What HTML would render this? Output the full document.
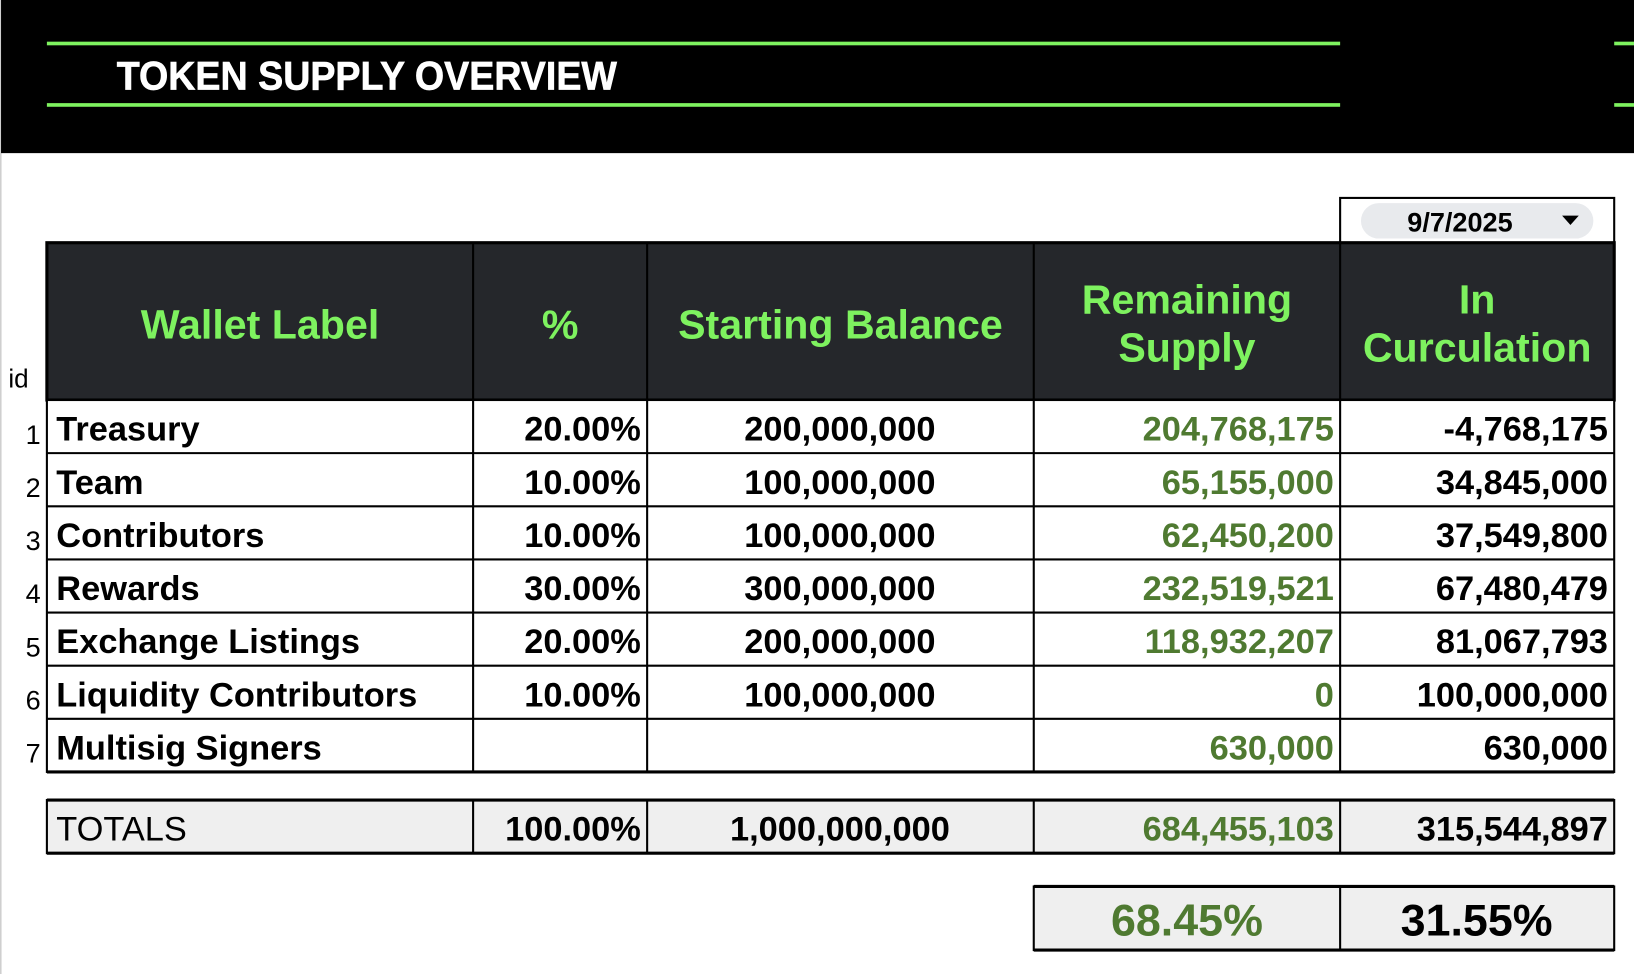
<!DOCTYPE html>
<html><head><meta charset="utf-8"><style>
html,body{margin:0;padding:0;background:#fff;overflow:hidden}
svg{display:block}
text{font-family:"Liberation Sans",sans-serif}
</style></head><body>
<svg id="s" width="1634" height="974" viewBox="0 0 1568 935" preserveAspectRatio="none" xmlns="http://www.w3.org/2000/svg">
<rect x="0" y="0" width="1568" height="935" fill="#fff"/>
<rect x="0" y="0" width="1.5" height="935" fill="#cfcfcf"/>
<rect x="1" y="0" width="1567" height="147" fill="#000"/>
<rect x="45" y="40" width="1241" height="3.5" fill="#7ef25f"/>
<rect x="45" y="99" width="1241" height="3.5" fill="#7ef25f"/>
<rect x="1549" y="40" width="19" height="3.5" fill="#7ef25f"/>
<rect x="1549" y="99" width="19" height="3.5" fill="#7ef25f"/>
<text x="112" y="86" font-size="38" font-weight="bold" fill="#fff" stroke="#fff" stroke-width="0.6" textLength="480" lengthAdjust="spacingAndGlyphs">TOKEN SUPPLY OVERVIEW</text>
<g>
<rect x="1286" y="190" width="263" height="44" fill="#fff" stroke="#000" stroke-width="2"/>
<rect x="1306" y="195" width="223" height="34" rx="17" fill="#e8eaed"/>
<text x="1401" y="222" text-anchor="middle" font-size="26" font-weight="bold" fill="#000">9/7/2025</text>
<polygon points="1499,207 1515,207 1507,216" fill="#000"/>
</g>
<g id="tbl"></g>
</svg>
<script>
const labels=["Treasury","Team","Contributors","Rewards","Exchange Listings","Liquidity Contributors","Multisig Signers"];
const pcts=["20.00%","10.00%","10.00%","30.00%","20.00%","10.00%",""];
const starting=["200,000,000","100,000,000","100,000,000","300,000,000","200,000,000","100,000,000",""];
const remaining=["204,768,175","65,155,000","62,450,200","232,519,521","118,932,207","0","630,000"];
const inCirc=["-4,768,175","34,845,000","37,549,800","67,480,479","81,067,793","100,000,000","630,000"];
const totals=["TOTALS","100.00%","1,000,000,000","684,455,103","315,544,897"];
const summary=["68.45%","31.55%"];

const NS="http://www.w3.org/2000/svg";
const g=document.getElementById('tbl');
const cols=[45,454,621,992,1286,1549];
const GREEN="#4f7a31", HG="#7ef25f";
const FS=33;
function el(t,a,txt){const e=document.createElementNS(NS,t);for(const k in a)e.setAttribute(k,a[k]);if(txt!==undefined)e.textContent=txt;g.appendChild(e);return e;}
const hdr=el('rect',{x:45,y:233,width:1504,height:151,fill:"#25272b",stroke:"#000","stroke-width":3});


for(let i=1;i<5;i++)el('line',{x1:cols[i],y1:233,x2:cols[i],y2:384,stroke:"#000","stroke-width":2});
const heads=[["Wallet Label"],["%"],["Starting Balance"],["Remaining","Supply"],["In","Curculation"]];
heads.forEach((h,i)=>{const cx=(cols[i]+cols[i+1])/2;
 h.forEach((line,j)=>{const y=h.length==1?325:(301+j*46);
  const t=el('text',{x:cx,y:y,"text-anchor":"middle","font-size":39.5,"font-weight":"bold",fill:HG},line);
  
  });});
el('text',{x:8,y:372,"font-size":25,fill:"#000"},"id");
const top0=384,rh=51;
el('rect',{x:45,y:top0,width:1504,height:rh*labels.length,fill:"#fff",stroke:"#000","stroke-width":2});
labels.forEach((lab,r)=>{
 const y=top0+r*rh, by=y+39;
 if(r>0)el('line',{x1:45,y1:y,x2:1549,y2:y,stroke:"#000","stroke-width":2});
 el('text',{x:39,y:by+3,"text-anchor":"end","font-size":26,fill:"#000"},String(r+1));
 const a=el('text',{x:54,y:by,"font-size":FS,"font-weight":"bold",fill:"#000"},lab);
 
 
 el('text',{x:615,y:by,"text-anchor":"end","font-size":FS,"font-weight":"bold",fill:"#000"},pcts[r]);
 el('text',{x:806,y:by,"text-anchor":"middle","font-size":FS,"font-weight":"bold",fill:"#000"},starting[r]);
 el('text',{x:1280,y:by,"text-anchor":"end","font-size":FS,"font-weight":"bold",fill:GREEN},remaining[r]);
 el('text',{x:1543,y:by,"text-anchor":"end","font-size":FS,"font-weight":"bold",fill:"#000"},inCirc[r]);
});
for(let i=1;i<5;i++)el('line',{x1:cols[i],y1:top0,x2:cols[i],y2:top0+rh*labels.length,stroke:"#000","stroke-width":2});
el('line',{x1:45,y1:top0+rh*labels.length,x2:1549,y2:top0+rh*labels.length,stroke:"#000","stroke-width":3});
const tr=el('rect',{x:45,y:768,width:1504,height:51,fill:"#efefef",stroke:"#000","stroke-width":2});


el('line',{x1:45,y1:768,x2:1549,y2:768,stroke:"#000","stroke-width":3});
el('line',{x1:45,y1:819,x2:1549,y2:819,stroke:"#000","stroke-width":3});
for(let i=1;i<5;i++)el('line',{x1:cols[i],y1:768,x2:cols[i],y2:819,stroke:"#000","stroke-width":2});
el('text',{x:54,y:807,"font-size":FS,fill:"#000"},totals[0]);
el('text',{x:615,y:807,"text-anchor":"end","font-size":FS,"font-weight":"bold",fill:"#000"},totals[1]);
el('text',{x:806,y:807,"text-anchor":"middle","font-size":FS,"font-weight":"bold",fill:"#000"},totals[2]);
el('text',{x:1280,y:807,"text-anchor":"end","font-size":FS,"font-weight":"bold",fill:GREEN},totals[3]);
el('text',{x:1543,y:807,"text-anchor":"end","font-size":FS,"font-weight":"bold",fill:"#000"},totals[4]);
const sb=el('rect',{x:992,y:851,width:557,height:61,fill:"#efefef",stroke:"#000","stroke-width":2});


el('line',{x1:992,y1:851,x2:1549,y2:851,stroke:"#000","stroke-width":3});
el('line',{x1:992,y1:912,x2:1549,y2:912,stroke:"#000","stroke-width":3});
el('line',{x1:1286,y1:851,x2:1286,y2:912,stroke:"#000","stroke-width":2});
el('text',{x:1139,y:898,"text-anchor":"middle","font-size":43,"font-weight":"bold",fill:GREEN},summary[0]);
el('text',{x:1417,y:898,"text-anchor":"middle","font-size":43,"font-weight":"bold",fill:"#000"},summary[1]);
</script>
</body></html>
